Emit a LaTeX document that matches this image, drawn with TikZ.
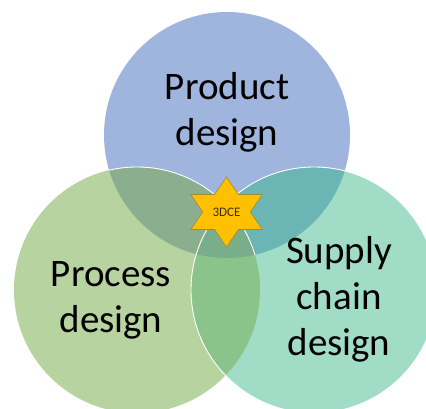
\documentclass[tikz,border=0pt]{standalone}
\usepackage{fontspec}
\setmainfont{Carlito}
\definecolor{topc}{HTML}{A0B5DE}
\definecolor{leftc}{HTML}{B7D4A0}
\definecolor{rightc}{HTML}{A0DCC6}
\definecolor{tlc}{HTML}{8BAE8F}
\definecolor{trc}{HTML}{6CB5B5}
\definecolor{lrc}{HTML}{8BC48B}
\definecolor{tlrc}{HTML}{7AAE8A}
\definecolor{starc}{HTML}{FFC000}
\definecolor{stard}{HTML}{A08A3A}
\definecolor{startext}{HTML}{3A2E10}
\tikzset{
  lab/.style={font=\fontsize{39}{46}\selectfont, align=center, text=black, inner sep=0pt},
  ring/.style={draw=white, line width=0.9pt},
  starfill/.style={fill=starc, draw=stard, line width=0.6pt, line join=miter},
  startxt/.style={font=\fontsize{13}{14}\selectfont, text=startext, inner sep=0pt}
}
\begin{document}
\begin{tikzpicture}[x=1pt,y=-1pt]
\useasboundingbox (0,0) rectangle (426,408);
\begin{scope}
\clip (0,0) rectangle (426,408);
\coordinate (T) at (227,135);
\coordinate (L) at (137,290);
\coordinate (R) at (314,290);
\fill[topc] (T) circle (123);
\fill[leftc] (L) circle (123);
\fill[rightc] (R) circle (123);
\begin{scope}\clip (T) circle (123); \fill[tlc] (L) circle (123);\end{scope}
\begin{scope}\clip (T) circle (123); \fill[trc] (R) circle (123);\end{scope}
\begin{scope}\clip (L) circle (123); \fill[lrc] (R) circle (123);\end{scope}
\begin{scope}\clip (T) circle (123); \clip (L) circle (123); \fill[tlrc] (R) circle (123);\end{scope}
\begin{scope}\clip (T) circle (123); \draw[ring] (L) circle (123);\end{scope}
\draw[ring] (R) circle (123);
\end{scope}
\node[lab] (prod) at (227,112) {Product\\design};
\node[lab] (proc) at (111,300) {Process\\design};
\node[lab] (sup) at (339,299) {Supply\\chain\\design};
\coordinate (S) at (226.5,212);
\draw[starfill] ([shift={(0,-35)}]S) -- ([shift={(11.9,-17.5)}]S) -- ([shift={(35.7,-17.5)}]S)
  -- ([shift={(23.8,0)}]S) -- ([shift={(35.7,17.5)}]S) -- ([shift={(11.9,17.5)}]S)
  -- ([shift={(0,35)}]S) -- ([shift={(-11.9,17.5)}]S) -- ([shift={(-35.7,17.5)}]S)
  -- ([shift={(-23.8,0)}]S) -- ([shift={(-35.7,-17.5)}]S) -- ([shift={(-11.9,-17.5)}]S) -- cycle;
\node[startxt] (s) at (S) {3DCE};
\end{tikzpicture}
\end{document}
